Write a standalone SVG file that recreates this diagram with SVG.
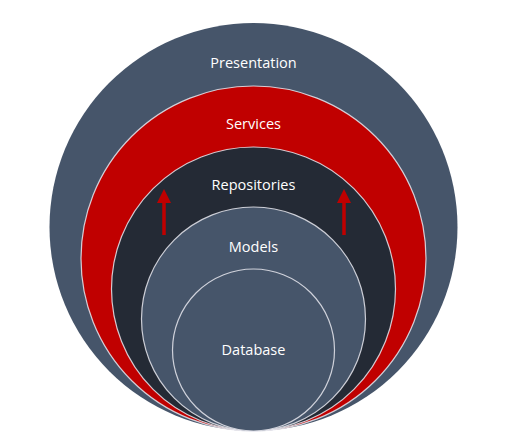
<svg xmlns="http://www.w3.org/2000/svg" width="511" height="444" viewBox="0 0 511 444">
<style>
.lbl{font-family:"Open Sans","Liberation Sans",sans-serif;font-size:14.5px;fill:#ffffff;text-anchor:middle}
.ring{stroke:#e8e8ee;stroke-width:1.2;stroke-opacity:0.85}
.arr{stroke:#c00000;stroke-width:3.5;fill:none}
</style>
<defs>
<marker id="ah" markerWidth="4" markerHeight="4" refX="2" refY="2" orient="auto" markerUnits="strokeWidth" viewBox="0 0 4 4">
<path d="M0,0 L4,2 L0,4 Z" fill="#c00000"/>
</marker>
</defs>
<rect width="511" height="444" fill="#ffffff"/>
<g id="presentation">
<circle cx="253.5" cy="227" r="204" fill="#46556a"/>
<text class="lbl" x="253.5" y="68">Presentation</text>
</g>
<g id="services">
<circle class="ring" cx="253.5" cy="258.5" r="172.5" fill="#c00000"/>
<text class="lbl" x="253.5" y="129">Services</text>
</g>
<g id="repositories">
<circle class="ring" cx="253.5" cy="289" r="142" fill="#242a35"/>
<text class="lbl" x="253.5" y="190">Repositories</text>
</g>
<g id="models">
<circle class="ring" cx="253.5" cy="319" r="112" fill="#46556a"/>
<text class="lbl" x="253.5" y="252">Models</text>
</g>
<g id="database">
<circle class="ring" cx="253.5" cy="350" r="81" fill="#46556a"/>
<text class="lbl" x="253.5" y="355">Database</text>
</g>
<g id="connectors">
<line class="arr" x1="164" y1="235" x2="164" y2="196" marker-end="url(#ah)"/>
<line class="arr" x1="344" y1="235" x2="344" y2="196" marker-end="url(#ah)"/>
</g>
</svg>
